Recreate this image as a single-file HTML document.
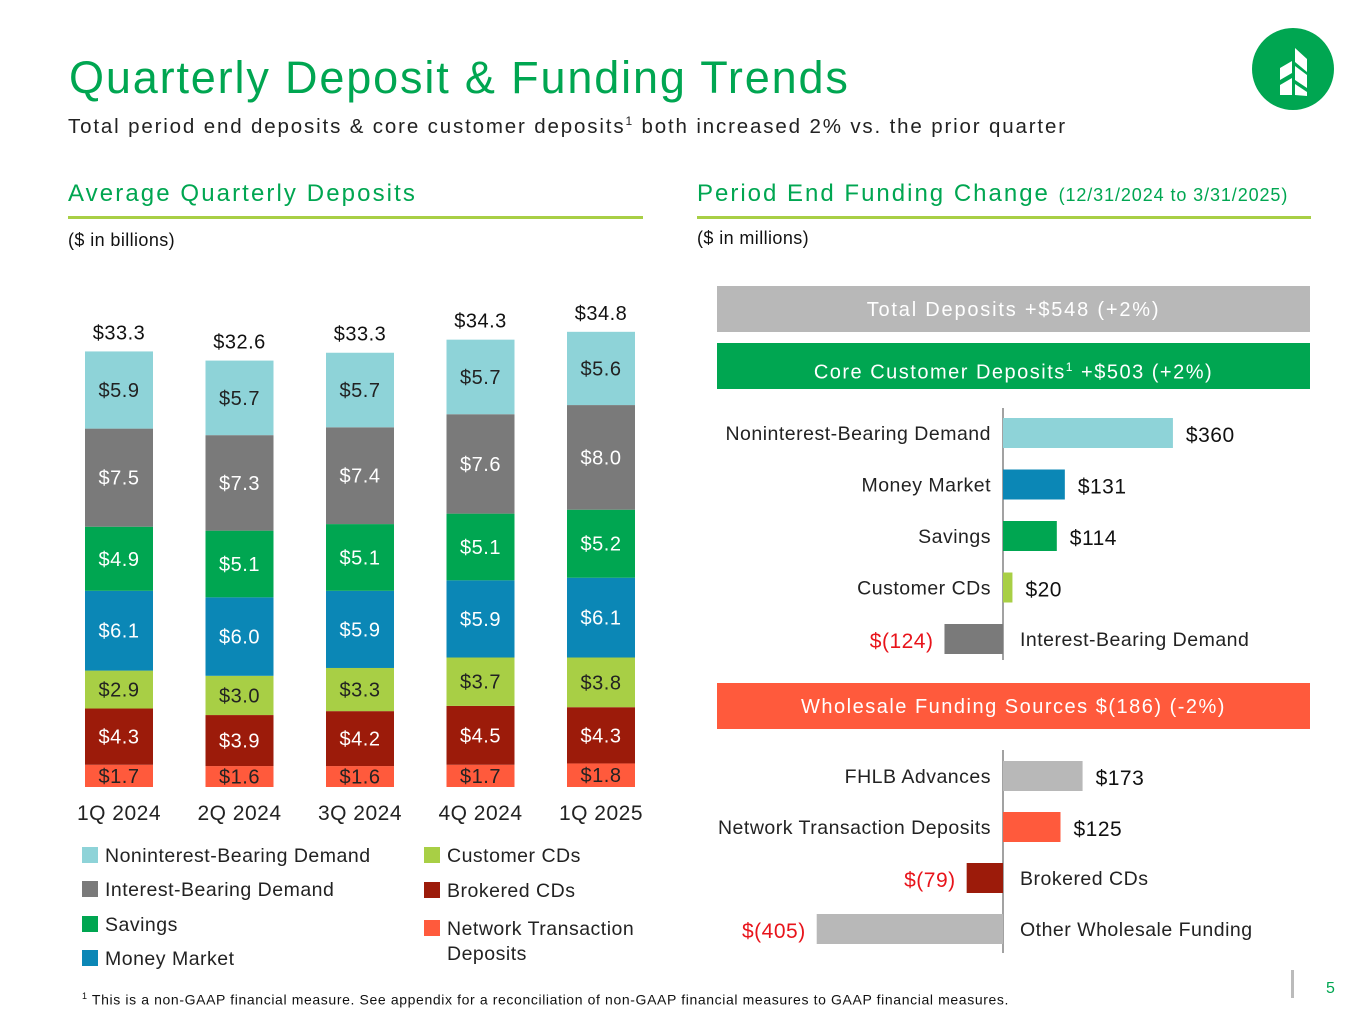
<!DOCTYPE html>
<html><head><meta charset="utf-8"><style>
body{margin:0;width:1365px;height:1024px;background:#fff;font-family:"Liberation Sans",sans-serif;position:relative;overflow:hidden}
.a{position:absolute;white-space:nowrap}
svg text{letter-spacing:0.5px}
</style></head><body>
<div class="a" style="left:69px;top:52px;font-size:45px;color:#00a651;letter-spacing:1.85px">Quarterly Deposit &amp; Funding Trends</div>
<div class="a" style="left:68px;top:114px;font-size:20.5px;color:#222;letter-spacing:1.85px">Total period end deposits &amp; core customer deposits<sup style="font-size:12px">1</sup> both increased 2% vs. the prior quarter</div>
<svg class="a" style="left:1252px;top:28px" width="82" height="82" viewBox="0 0 82 82"><circle cx="41" cy="41" r="41" fill="#00a651"/><path d="M43 20 L55 31 L55 44 L43 34Z M43 38 L55 47 L55 60 L43 52Z M43 56 L55 64 L55 68 L43 67Z M28 40 L40 33 L40 45 L28 52Z M28 57 L40 50 L40 67 L28 67Z" fill="#fff"/></svg>
<div class="a" style="left:68px;top:180px;font-size:24px;color:#00a651;letter-spacing:2.1px">Average Quarterly Deposits</div>
<div class="a" style="left:68px;top:216px;width:575px;height:3px;background:#a8cf45"></div>
<div class="a" style="left:68px;top:230px;font-size:18px;color:#111;letter-spacing:0.4px">($ in billions)</div>
<div class="a" style="left:697px;top:180px;font-size:24px;color:#00a651;letter-spacing:2px">Period End Funding Change <span style="font-size:18px;letter-spacing:0.9px">(12/31/2024 to 3/31/2025)</span></div>
<div class="a" style="left:697px;top:216px;width:614px;height:3px;background:#a8cf45"></div>
<div class="a" style="left:697px;top:228px;font-size:18px;color:#111;letter-spacing:0.4px">($ in millions)</div>
<div class="a" style="left:717px;top:286px;width:593px;height:46px;background:#b8b8b8;color:#fff;font-size:20px;text-align:center;line-height:48px;letter-spacing:1.8px">Total Deposits +$548 (+2%)</div>
<div class="a" style="left:717px;top:343px;width:593px;height:46px;background:#00a651;color:#fff;font-size:20px;text-align:center;line-height:48px;letter-spacing:1.5px">Core Customer Deposits<sup style="font-size:12px">1</sup> +$503 (+2%)</div>
<div class="a" style="left:717px;top:683px;width:593px;height:46px;background:#ff5a3c;color:#fff;font-size:20px;text-align:center;line-height:48px;letter-spacing:1.5px">Wholesale Funding Sources $(186) (-2%)</div>
<svg id="chart" class="a" style="left:0;top:0" width="1365" height="1024"></svg>
<div class="a" style="left:82px;top:991px;font-size:14px;color:#111;letter-spacing:0.62px"><sup style="font-size:9px">1</sup> This is a non-GAAP financial measure. See appendix for a reconciliation of non-GAAP financial measures to GAAP financial measures.</div>
<div class="a" style="left:1291px;top:970px;width:3px;height:28px;background:#bbb"></div>
<div class="a" style="left:1326px;top:980px;font-size:16px;color:#00a651">5</div>
<script>
const quarters=["1Q 2024","2Q 2024","3Q 2024","4Q 2024","1Q 2025"];
const totals=["$33.3","$32.6","$33.3","$34.3","$34.8"];
const networkTx=[1.7,1.6,1.6,1.7,1.8];
const brokered=[4.3,3.9,4.2,4.5,4.3];
const customerCDs=[2.9,3.0,3.3,3.7,3.8];
const moneyMarket=[6.1,6.0,5.9,5.9,6.1];
const savings=[4.9,5.1,5.1,5.1,5.2];
const ibDemand=[7.5,7.3,7.4,7.6,8.0];
const nibDemand=[5.9,5.7,5.7,5.7,5.6];
const coreLabels=["Noninterest-Bearing Demand","Money Market","Savings","Customer CDs","Interest-Bearing Demand"];
const coreValues=[360,131,114,20,-124];
const wsLabels=["FHLB Advances","Network Transaction Deposits","Brokered CDs","Other Wholesale Funding"];
const wsValues=[173,125,-79,-405];

const NS="http://www.w3.org/2000/svg",svg=document.getElementById('chart');
function mk(t,a,txt){const e=document.createElementNS(NS,t);for(const k in a)e.setAttribute(k,a[k]);if(txt!=null)e.textContent=txt;svg.appendChild(e);return e;}
const series=[["network",networkTx,"#ff5a3c","#222"],["brokered",brokered,"#9c1b0a","#fff"],["customer-cds",customerCDs,"#a8cf45","#222"],["money-market",moneyMarket,"#0b87b6","#fff"],["savings",savings,"#00a651","#fff"],["ib-demand",ibDemand,"#7a7a7a","#fff"],["nib-demand",nibDemand,"#8ed3d8","#222"]];
const base=787,k=13.08;
const y=v=>base-v*k, x=i=>85+i*120.5;
quarters.forEach((q,i)=>{
  let cum=0;
  series.forEach(([n,arr,c,tc])=>{
    const v=arr[i],y0=y(cum+v),h=v*k;
    const r=mk('rect',{x:x(i),y:y0,width:68,height:h,fill:c});
    
    
    const t=mk('text',{x:x(i)+34,y:y0+h/2+7,'text-anchor':'middle','font-size':20,fill:tc},'$'+v.toFixed(1));
    
    
    cum+=v;
  });
  const tt=mk('text',{x:x(i)+34,y:y(cum)-12,'text-anchor':'middle','font-size':20,fill:'#111'},totals[i]);
  
  
  const xl=mk('text',{x:x(i)+34,y:820,'text-anchor':'middle','font-size':21,fill:'#222'},q);
  
  
});
const legend=[["Noninterest-Bearing Demand","#8ed3d8",82,855],["Interest-Bearing Demand","#7a7a7a",82,889],["Savings","#00a651",82,924],["Money Market","#0b87b6",82,958],["Customer CDs","#a8cf45",424,855],["Brokered CDs","#9c1b0a",424,890],["Network Transaction","#ff5a3c",424,928]];
legend.forEach(([l,c,lx,ly])=>{
  const r=mk('rect',{x:lx,y:ly-8,width:16,height:16,fill:c});
  
  
  const t=mk('text',{x:lx+23,y:ly+7,'font-size':19.5,fill:'#222','letter-spacing':'1.1px'},l);
  
  
});
const t2=mk('text',{x:447,y:960,'font-size':19.5,fill:'#222'},'Deposits');



function hbar(labels,values,colors,ax,sc,y0,step,top,bot){
  const al=mk('line',{x1:ax,x2:ax,y1:top,y2:bot,stroke:'#444','stroke-width':1});
  
  
  labels.forEach((l,i)=>{
    const v=values[i],w=Math.abs(v)*sc,yy=y0+i*step;
    const r=mk('rect',{x:v>=0?ax:ax-w,y:yy,width:w,height:30,fill:colors[i]});
    
    
    const c=mk('text',{x:v>=0?ax-12:ax+17,y:yy+22,'text-anchor':v>=0?'end':'start','font-size':19.5,fill:'#222','letter-spacing':'0.9px'},l);
    
    
    const vt=v>=0?'$'+v:'$('+(-v)+')';
    const vl=mk('text',{x:v>=0?ax+w+13:ax-w-11,y:yy+24,'text-anchor':v>=0?'start':'end','font-size':21,fill:v>=0?'#111':'#e8141b'},vt);
    
    
  });
}
hbar(coreLabels,coreValues,["#8ed3d8","#0b87b6","#00a651","#a8cf45","#7a7a7a"],1003,0.472,418,51.5,408,660);
hbar(wsLabels,wsValues,["#b8b8b8","#ff5a3c","#9c1b0a","#b8b8b8"],1003,0.46,761,51,750,953);
</script>
</body></html>
